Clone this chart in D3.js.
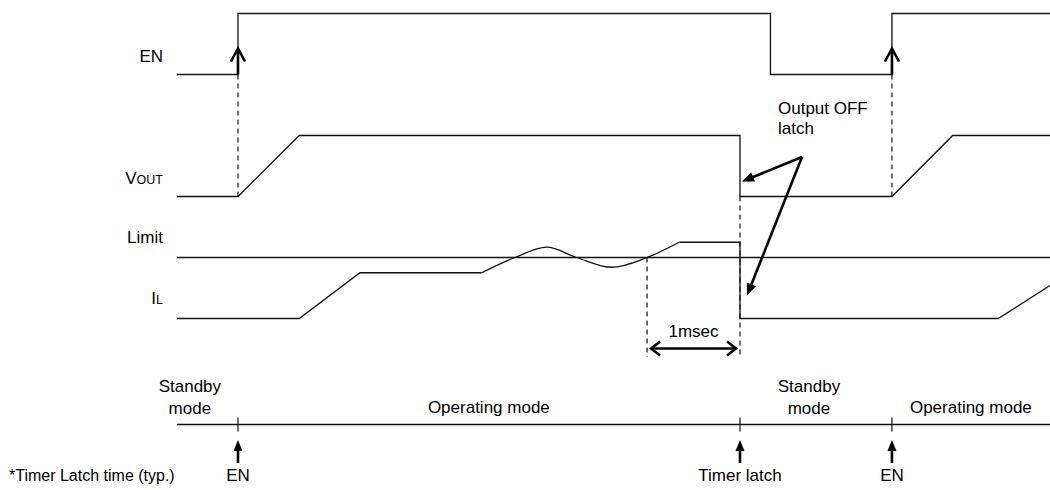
<!DOCTYPE html>
<html><head><meta charset="utf-8">
<script src="https://cdn.jsdelivr.net/npm/d3@7/dist/d3.min.js"></script>
<style>
body{margin:0;background:#fff}
text{font-family:"Liberation Sans",Arial,Helvetica,sans-serif;fill:#000}
</style>
</head><body>
<svg id="c" width="1050" height="490"></svg>
<script>
// ---- data (time in msec, levels normalised: 0 = low, 1 = high / limit) ----
const enTimes    = [0, 0.663, 0.663, 6.451, 6.451, 7.772, 7.772, 9.49];
const enLevels   = [0, 0, 1, 1, 0, 0, 1, 1];
const voutTimes  = [0, 0.663, 1.329, 6.12, 6.12, 7.772, 8.432, 9.49];
const voutLevels = [0, 0, 1, 1, 0, 0, 1, 1];
const ilTimes    = [0, 1.329, 1.989, 3.312];
const ilLevels   = [0, 0, 0.75, 0.75];
const ilWaveTimes  = [3.312, 3.674, 4.018, 4.345, 4.725, 5.11, 5.46];
const ilWaveLevels = [0.75, 1.0, 1.17, 1.0, 0.84, 1.0, 1.25];
const ilTailTimes  = [5.46, 6.12, 6.12, 8.927, 9.49];
const ilTailLevels = [1.25, 1.25, 0, 0, 0.54];
const limitLevel = 1.0;
const enEvents = [0.663, 7.772];
const overLimitTime = 5.11;
const latchTime = 6.12;
const modeTicks = [0.663, 6.12, 7.772];
const modeTickLabels = ["EN", "Timer latch", "EN"];
const modeNames = [["Standby","mode"], ["Operating mode"], ["Standby","mode"], ["Operating mode"]];
const modeNameTimes = [0.14, 3.39, 6.87, 8.63];
const signalNames = ["EN", "VOUT", "Limit", "IL"];

// ---- scales ----
const svg = d3.select("#c");
const x = d3.scaleLinear().domain([0, 9.49]).range([177, 1050]);
const yEN = d3.scaleLinear().domain([0, 1]).range([74.5, 13.5]);
const yV  = d3.scaleLinear().domain([0, 1]).range([196.5, 135.5]);
const yI  = d3.scaleLinear().domain([0, 1]).range([318.5, 257.5]);
const modeY = 424.5;

const INK = "#111";
const line = (ys) => d3.line().x(d => x(d[0])).y(d => ys(d[1]));
const zip = (a, b) => a.map((v, i) => [v, b[i]]);

function drawPath(d) {
  return svg.append("path").attr("d", d).attr("fill", "none")
    .attr("stroke", INK).attr("stroke-width", 1.3).attr("stroke-linejoin", "miter");
}

// signals
drawPath(line(yEN)(zip(enTimes, enLevels)));
drawPath(line(yV)(zip(voutTimes, voutLevels)));
drawPath(line(yI)([[0, limitLevel], [9.49, limitLevel]]));
drawPath(line(yI)(zip(ilTimes, ilLevels)));
drawPath(line(yI).curve(d3.curveMonotoneX)(zip(ilWaveTimes, ilWaveLevels)));
drawPath(line(yI)(zip(ilTailTimes, ilTailLevels)));

// dashed guide lines
const dash = (t, y1, y2) => svg.append("line")
  .attr("x1", x(t)).attr("x2", x(t)).attr("y1", y1).attr("y2", y2)
  .attr("stroke", INK).attr("stroke-width", 1.2).attr("stroke-dasharray", "5,4");
enEvents.forEach(t => dash(t, yEN(0), yV(0)));
dash(latchTime, yV(0), 357);
dash(overLimitTime, yI(limitLevel), 357);

// EN rising-edge arrows (open heads)
enEvents.forEach(t => {
  const cx = x(t);
  svg.append("line").attr("x1", cx).attr("x2", cx).attr("y1", yEN(0)).attr("y2", yEN(0) - 25)
    .attr("stroke", "#000").attr("stroke-width", 2.6);
  svg.append("path").attr("d", `M${cx - 7},${yEN(0) - 13} L${cx},${yEN(0) - 26} L${cx + 7},${yEN(0) - 13}`)
    .attr("fill", "none").attr("stroke", "#000").attr("stroke-width", 2.6);
});

// 1msec double arrow
{
  const ay = 348.5, a = x(overLimitTime) + 4, b = x(latchTime) - 4;
  svg.append("line").attr("x1", a).attr("x2", b).attr("y1", ay).attr("y2", ay)
    .attr("stroke", "#000").attr("stroke-width", 2.6);
  svg.append("path").attr("d", `M${a + 9},${ay - 7} L${a},${ay} L${a + 9},${ay + 7}`)
    .attr("fill", "none").attr("stroke", "#000").attr("stroke-width", 2.6);
  svg.append("path").attr("d", `M${b - 9},${ay - 7} L${b},${ay} L${b - 9},${ay + 7}`)
    .attr("fill", "none").attr("stroke", "#000").attr("stroke-width", 2.6);
  svg.append("text").attr("x", (a + b) / 2).attr("y", 337).attr("text-anchor", "middle")
    .attr("font-size", 17).text("1msec");
}

// filled arrow helper
function arrow(x1, y1, x2, y2, len, hw) {
  const ang = Math.atan2(y2 - y1, x2 - x1);
  const bx = x2 - len * Math.cos(ang), by = y2 - len * Math.sin(ang);
  svg.append("line").attr("x1", x1).attr("y1", y1).attr("x2", bx + 2 * Math.cos(ang)).attr("y2", by + 2 * Math.sin(ang))
    .attr("stroke", "#000").attr("stroke-width", 2.6);
  const px = -Math.sin(ang) * hw, py = Math.cos(ang) * hw;
  svg.append("path").attr("d", `M${x2},${y2} L${bx + px},${by + py} L${bx - px},${by - py}Z`).attr("fill", "#000");
}

// Output OFF latch annotation
{
  const ox = x(latchTime) + 62, oy = 157;
  arrow(ox, oy, x(latchTime) + 2, yV(0) - 15, 12, 5);
  arrow(ox, oy, x(latchTime) + 7, yI(0) - 23, 12, 5);
  const t = svg.append("text").attr("x", x(latchTime) + 38).attr("font-size", 17);
  t.append("tspan").attr("x", x(latchTime) + 38).attr("y", 114).text("Output OFF");
  t.append("tspan").attr("x", x(latchTime) + 38).attr("y", 134).text("latch");
}

// signal labels
const labelX = 163;
svg.append("text").attr("x", labelX).attr("y", 62).attr("text-anchor", "end").attr("font-size", 17).text(signalNames[0]);
{
  const t = svg.append("text").attr("x", labelX).attr("y", 184).attr("text-anchor", "end").attr("font-size", 17);
  t.append("tspan").text(signalNames[1][0]);
  t.append("tspan").attr("font-size", 12.5).text(signalNames[1].slice(1));
}
svg.append("text").attr("x", labelX).attr("y", 243).attr("text-anchor", "end").attr("font-size", 17).text(signalNames[2]);
{
  const t = svg.append("text").attr("x", labelX).attr("y", 304).attr("text-anchor", "end").attr("font-size", 17);
  t.append("tspan").text(signalNames[3][0]);
  t.append("tspan").attr("font-size", 12.5).text(signalNames[3].slice(1));
}

// mode line
svg.append("line").attr("x1", x(0)).attr("x2", x(9.49)).attr("y1", modeY).attr("y2", modeY)
  .attr("stroke", INK).attr("stroke-width", 1.3);
modeTicks.forEach((t, i) => {
  const cx = x(t);
  svg.append("line").attr("x1", cx).attr("x2", cx).attr("y1", modeY - 7).attr("y2", modeY + 7)
    .attr("stroke", INK).attr("stroke-width", 1.2);
  svg.append("line").attr("x1", cx).attr("x2", cx).attr("y1", 447).attr("y2", 463)
    .attr("stroke", "#000").attr("stroke-width", 2.6);
  svg.append("path").attr("d", `M${cx},440 L${cx - 4.5},451 L${cx + 4.5},451Z`).attr("fill", "#000");
  svg.append("text").attr("x", cx).attr("y", 481).attr("text-anchor", "middle").attr("font-size", 17)
    .text(modeTickLabels[i]);
});
modeNames.forEach((lines, i) => {
  const t = svg.append("text").attr("text-anchor", "middle").attr("font-size", 17);
  const cx = x(modeNameTimes[i]);
  if (lines.length === 2) {
    t.append("tspan").attr("x", cx).attr("y", 392).text(lines[0]);
    t.append("tspan").attr("x", cx).attr("y", 414).text(lines[1]);
  } else {
    t.append("tspan").attr("x", cx).attr("y", 413).text(lines[0]);
  }
});

svg.append("text").attr("x", 9).attr("y", 481).attr("font-size", 16).text("*Timer Latch time (typ.)");
</script>
</body></html>
